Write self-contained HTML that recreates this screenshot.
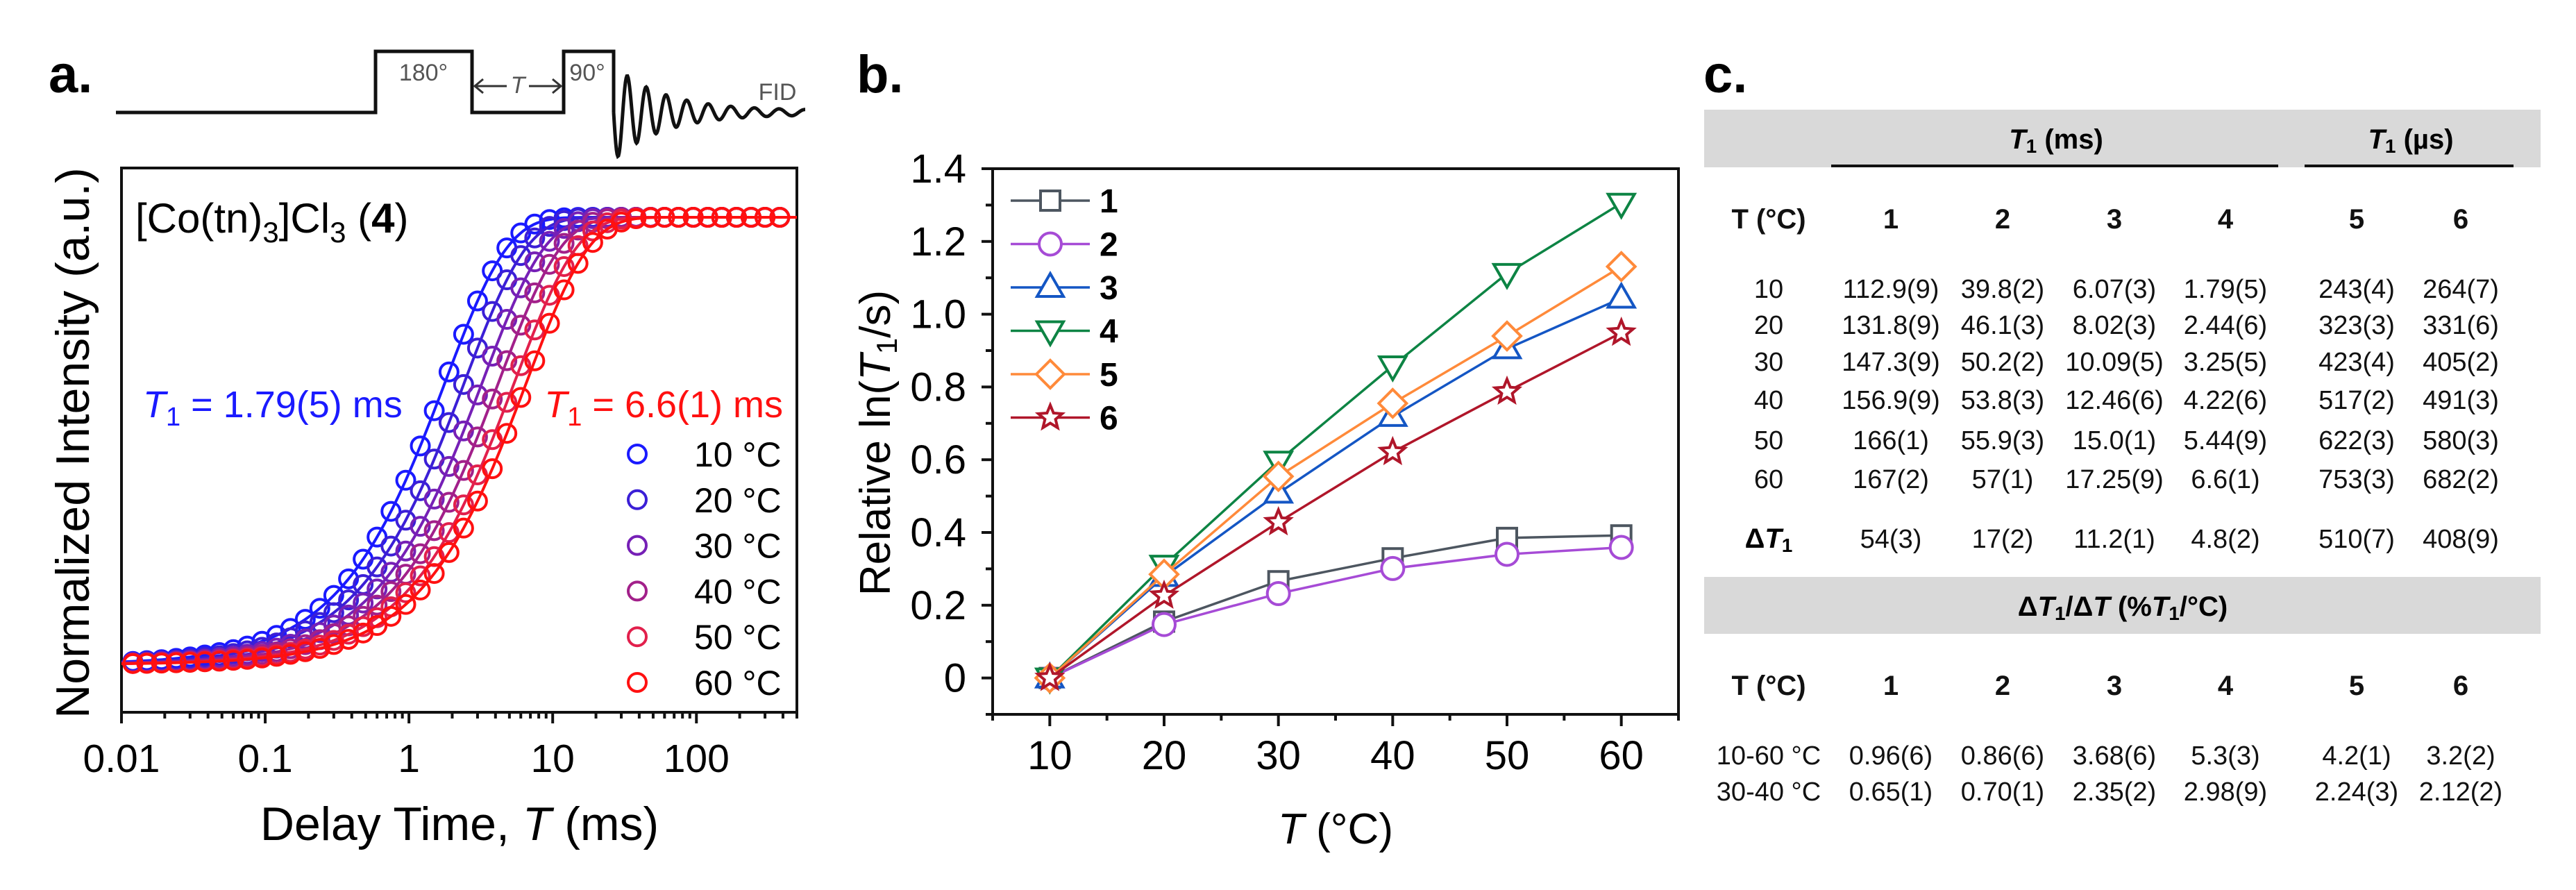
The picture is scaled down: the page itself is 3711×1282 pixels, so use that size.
<!DOCTYPE html>
<html><head><meta charset="utf-8"><style>
html,body{margin:0;padding:0;background:#fff;}
svg{display:block;font-family:"Liberation Sans",Arial,sans-serif;}
</style></head><body>
<svg id="fig" width="3711" height="1282" viewBox="0 0 3711 1282" xmlns="http://www.w3.org/2000/svg">
<g id="pa">
<text x="70" y="133" font-size="76" font-weight="bold">a.</text>
<g id="pulse" fill="none" stroke="#111" stroke-width="5">
<polyline points="167,162 541,162 541,74 680,74 680,162 812,162 812,74 884,74 884,162"/>
</g>
<text x="610" y="116" font-size="34" fill="#555" text-anchor="middle">180°</text>
<text x="846" y="116" font-size="34" fill="#555" text-anchor="middle">90°</text>
<text x="746" y="134" font-size="34" fill="#555" text-anchor="middle" font-style="italic">T</text>
<g stroke="#333" stroke-width="3" fill="none">
<line x1="684" y1="124" x2="730" y2="124"/><line x1="762" y1="124" x2="808" y2="124"/>
<polyline points="696,114 684,124 696,134"/><polyline points="796,114 808,124 796,134"/>
</g>
<text x="1120" y="144" font-size="34" fill="#555" text-anchor="middle">FID</text>
<rect x="175" y="242" width="973" height="784" fill="none" stroke="#111" stroke-width="4"/>
<g id="aTicks"></g>
<g id="aData"></g>
<text x="195" y="335" font-size="60">[Co(tn)<tspan font-size="42" dy="14">3</tspan><tspan dy="-14">]Cl</tspan><tspan font-size="42" dy="14">3</tspan><tspan dy="-14"> (</tspan><tspan font-weight="bold">4</tspan>)</text>
<text x="206" y="601" font-size="54" fill="#1a1aff"><tspan font-style="italic">T</tspan><tspan font-size="38" dy="12">1</tspan><tspan dy="-12"> = 1.79(5) ms</tspan></text>
<text x="1128" y="601" font-size="54" fill="#ff1010" text-anchor="end"><tspan font-style="italic">T</tspan><tspan font-size="38" dy="12">1</tspan><tspan dy="-12"> = 6.6(1) ms</tspan></text>
<text x="662" y="1210" font-size="68" text-anchor="middle">Delay Time, <tspan font-style="italic">T</tspan> (ms)</text>
<text transform="translate(128,638) rotate(-90)" font-size="68" text-anchor="middle">Normalized Intensity (a.u.)</text>
</g>
<g id="pb">
<text x="1234" y="133" font-size="76" font-weight="bold">b.</text>
<rect x="1430" y="243" width="988" height="786" fill="none" stroke="#111" stroke-width="4"/>
<g id="bTicks"></g>
<g id="bData"></g>
<g id="bLegend"></g>
<text x="1924" y="1215" font-size="62" text-anchor="middle"><tspan font-style="italic">T</tspan> (°C)</text>
<text transform="translate(1282,638) rotate(-90)" font-size="62" text-anchor="middle">Relative ln(<tspan font-style="italic">T</tspan><tspan font-size="42" dy="10">1</tspan><tspan dy="-10">/s)</tspan></text>
</g>
<g id="pc">
<text x="2454" y="133" font-size="76" font-weight="bold">c.</text>
<rect x="2455" y="158" width="1205" height="83" fill="#d9d9d9"/>
<rect x="2455" y="831" width="1205" height="82" fill="#d9d9d9"/>
<line x1="2638" y1="239" x2="3282" y2="239" stroke="#111" stroke-width="4"/>
<line x1="3320" y1="239" x2="3621" y2="239" stroke="#111" stroke-width="4"/>
<text x="2962" y="214" font-size="40" font-weight="bold" text-anchor="middle"><tspan font-style="italic">T</tspan><tspan font-size="28" dy="6">1</tspan><tspan dy="-6"> (ms)</tspan></text>
<text x="3473" y="214" font-size="40" font-weight="bold" text-anchor="middle"><tspan font-style="italic">T</tspan><tspan font-size="28" dy="6">1</tspan><tspan dy="-6"> (µs)</tspan></text>
<text x="3058" y="887" font-size="40" font-weight="bold" text-anchor="middle">Δ<tspan font-style="italic">T</tspan><tspan font-size="28" dy="6">1</tspan><tspan dy="-6">/Δ</tspan><tspan font-style="italic">T</tspan> (%<tspan font-style="italic">T</tspan><tspan font-size="28" dy="6">1</tspan><tspan dy="-6">/°C)</tspan></text>
<g id="tbl"></g>
</g>
</svg>
<script>
const NS="http://www.w3.org/2000/svg";
function mk(tag,attrs,parent){const e=document.createElementNS(NS,tag);for(const k in attrs)e.setAttribute(k,attrs[k]);parent.appendChild(e);return e;}

// ---------- Panel a data ----------
const aTemps=["10 °C","20 °C","30 °C","40 °C","50 °C","60 °C"];
const aT1=[1.79,2.44,3.25,4.22,5.44,6.6];
const aColors=["#1a1aff","#3b1fd6","#7620b6","#a2208a","#e2204c","#ff1010"];
const aTimes=[0.012,0.015,0.019,0.024,0.03,0.038,0.048,0.06,0.075,0.095,0.12,0.15,0.19,0.24,0.3,0.38,0.48,0.6,0.75,0.95,1.2,1.5,1.9,2.4,3.0,3.8,4.8,6.0,7.5,9.5,12,15,19,24,30,38,48,60,75,95,120,150,190,240,300,380];
const aXTicks=[0.01,0.1,1,10,100];
const aXLabels=["0.01","0.1","1","10","100"];
const AX0=175,AX1=1148,AXmin=0.01,AXmax=500,AY0=957,AY1=313;
function ax(t){return AX0+(Math.log10(t)-Math.log10(AXmin))/(Math.log10(AXmax)-Math.log10(AXmin))*(AX1-AX0);}
function ay(v){return AY0+(AY1-AY0)*v;}

const aT=document.getElementById('aTicks');
for(let d=-2;d<=2;d++){for(let m=1;m<=9;m++){const t=m*Math.pow(10,d);if(t>AXmax)continue;const x=ax(t);
 const tk=mk('line',{x1:x,y1:1026,x2:x,y2:m===1?1042:1035,stroke:'#111','stroke-width':4},aT);
 
 }}
aXTicks.forEach((t,i)=>{const tx=mk('text',{x:ax(t),y:1112,'font-size':57,'text-anchor':'middle'},aT);tx.textContent=aXLabels[i];
 
 });

(function(){let pts=[];for(let x=884;x<=1160;x+=1){const u=x-884;const a=66*Math.exp(-u/70)+3;const ph=2*Math.PI*u/(26+u*0.02);pts.push(x+','+(162+a*Math.sin(ph)).toFixed(1));}
 const p=mk('polyline',{points:pts.join(' '),fill:'none',stroke:'#111','stroke-width':5},document.getElementById('pulse'));
 
 })();

const aD=document.getElementById('aData');
aT1.forEach((T1,si)=>{const g=mk('g',{},aD);
 
 
 let pts=[];for(let k=0;k<=200;k++){const t=AXmin*Math.pow(AXmax/AXmin,k/200);pts.push(ax(t).toFixed(1)+','+ay(1-Math.exp(-t/T1)).toFixed(1));}
 const fl=mk('polyline',{points:pts.join(' '),fill:'none',stroke:aColors[si],'stroke-width':4},g);
 
 
 aTimes.forEach(t=>{if(t>AXmax)return;const c=mk('circle',{cx:ax(t),cy:ay(1-Math.exp(-t/T1)),r:13,fill:'none',stroke:aColors[si],'stroke-width':4},g);
  
  });
 const ly=654+si*65.8;
 const lc=mk('circle',{cx:918,cy:ly,r:13,fill:'none',stroke:aColors[si],'stroke-width':4},aD);
 
 
 const lt=mk('text',{x:1000,y:ly+18,'font-size':50},aD);lt.textContent=aTemps[si];
 
 
});

// ---------- Panel b data ----------
const bTemps=[10,20,30,40,50,60];
const bS1=[0,0.155,0.266,0.329,0.385,0.392];
const bS2=[0,0.147,0.232,0.301,0.340,0.359];
const bS3=[0,0.279,0.508,0.719,0.905,1.044];
const bS4=[0,0.310,0.596,0.858,1.112,1.305];
const bS5=[0,0.285,0.554,0.755,0.940,1.131];
const bS6=[0,0.226,0.428,0.621,0.787,0.949];
const bNames=["1","2","3","4","5","6"];
const bYTicks=[0,0.2,0.4,0.6,0.8,1.0,1.2,1.4];
const bYLabels=["0","0.2","0.4","0.6","0.8","1.0","1.2","1.4"];
const bXTicks=[10,20,30,40,50,60];
const bSeries=[bS1,bS2,bS3,bS4,bS5,bS6];
const bColors=["#4d5660","#a64bd6","#1456c4","#0d8444","#ff8a3a","#b0162a"];
const bShapes=["square","circle","triangle","down","diamond","star"];
const BX0=1430,BX1=2418,BY0=1029,BY1=243,BXmin=5,BXmax=65,BYmin=-0.1,BYmax=1.4;
function bx(v){return BX0+(v-BXmin)/(BXmax-BXmin)*(BX1-BX0);}
function by(v){return BY0-(v-BYmin)/(BYmax-BYmin)*(BY0-BY1);}
const bT=document.getElementById('bTicks');
for(let v=-0.1;v<=1.41;v+=0.1){const y=by(v);const maj=Math.abs(Math.round(v*10)%2)===0;
 const tk=mk('line',{x1:1430,y1:y,x2:maj?1414:1420,y2:y,stroke:'#111','stroke-width':4},bT);
 
 }
bYTicks.forEach((v,i)=>{const t=mk('text',{x:1392,y:by(v)+20,'font-size':58,'text-anchor':'end'},bT);t.textContent=bYLabels[i];
 
 });
for(let v=5;v<=65;v+=5){const x=bx(v);const maj=v%10===0;
 const tk=mk('line',{x1:x,y1:1029,x2:x,y2:maj?1046:1038,stroke:'#111','stroke-width':4},bT);
 
 }
bXTicks.forEach(v=>{const t=mk('text',{x:bx(v),y:1108,'font-size':58,'text-anchor':'middle'},bT);t.textContent=v;
 
 });

function marker(shape,x,y,col,parent){let e;const s=14;
 const st={fill:'#fff',stroke:col,'stroke-width':4};
 if(shape==='square')e=mk('rect',Object.assign({x:x-s,y:y-s,width:2*s,height:2*s},st),parent);
 else if(shape==='circle')e=mk('circle',Object.assign({cx:x,cy:y,r:16},st),parent);
 else if(shape==='triangle')e=mk('polygon',Object.assign({points:`${x},${y-20} ${x+19},${y+13} ${x-19},${y+13}`},st),parent);
 else if(shape==='down')e=mk('polygon',Object.assign({points:`${x-19},${y-13} ${x+19},${y-13} ${x},${y+20}`},st),parent);
 else if(shape==='diamond')e=mk('polygon',Object.assign({points:`${x},${y-20} ${x+20},${y} ${x},${y+20} ${x-20},${y}`},st),parent);
 else {let p=[];for(let i=0;i<10;i++){const r=i%2?8:18;const a=-Math.PI/2+i*Math.PI/5;p.push((x+r*Math.cos(a)).toFixed(1)+','+(y+r*Math.sin(a)).toFixed(1));}
  e=mk('polygon',Object.assign({points:p.join(' ')},st),parent);}
 return e;}

const bD=document.getElementById('bData');
bSeries.forEach((s,si)=>{const g=mk('g',{},bD);
 
 
 const l=mk('polyline',{points:s.map((v,i)=>bx(bTemps[i])+','+by(v)).join(' '),fill:'none',stroke:bColors[si],'stroke-width':3.5},g);
 
 
 s.forEach((v,i)=>{const m=marker(bShapes[si],bx(bTemps[i]),by(v),bColors[si],g);
  
  });
});
const bL=document.getElementById('bLegend');
bNames.forEach((n,i)=>{const y=289+i*62.5;const g=mk('g',{},bL);
 
 
 mk('line',{x1:1456,y1:y,x2:1570,y2:y,stroke:bColors[i],'stroke-width':3.5},g);
 marker(bShapes[i],1513,y,bColors[i],g);
 const t=mk('text',{x:1584,y:y+17,'font-size':48,'font-weight':'bold'},g);t.textContent=n;});

// ---------- Panel c table ----------
const colX=[2548,2724,2885,3046,3206,3395,3545];
const hdr=["T (°C)","1","2","3","4","5","6"];
const rowsT1=[
["10","112.9(9)","39.8(2)","6.07(3)","1.79(5)","243(4)","264(7)"],
["20","131.8(9)","46.1(3)","8.02(3)","2.44(6)","323(3)","331(6)"],
["30","147.3(9)","50.2(2)","10.09(5)","3.25(5)","423(4)","405(2)"],
["40","156.9(9)","53.8(3)","12.46(6)","4.22(6)","517(2)","491(3)"],
["50","166(1)","55.9(3)","15.0(1)","5.44(9)","622(3)","580(3)"],
["60","167(2)","57(1)","17.25(9)","6.6(1)","753(3)","682(2)"]];
const rowDelta=["","54(3)","17(2)","11.2(1)","4.8(2)","510(7)","408(9)"];
const rowsRate=[
["10-60 °C","0.96(6)","0.86(6)","3.68(6)","5.3(3)","4.2(1)","3.2(2)"],
["30-40 °C","0.65(1)","0.70(1)","2.35(2)","2.98(9)","2.24(3)","2.12(2)"]];
const tb=document.getElementById('tbl');
function row(cells,y,bold,name){const g=mk('g',{},tb);
 
 
 cells.forEach((c,i)=>{if(!c)return;const t=mk('text',{x:colX[i],y:y+14,'font-size':bold?40:38,'font-weight':bold?'bold':'normal','text-anchor':'middle',fill:'#111'},g);t.textContent=c;});return g;}
row(hdr,315,true,'table-header-row');
[415,467,520,575,633,689].forEach((y,i)=>row(rowsT1[i],y,false,'table-row-'+rowsT1[i][0]));
const dr=row(rowDelta,775,false,'table-delta-row');
const dl=mk('text',{x:colX[0],y:789,'font-size':40,'font-weight':'bold','text-anchor':'middle'},dr);dl.innerHTML='Δ<tspan font-style="italic">T</tspan><tspan font-size="28" dy="6">1</tspan>';
row(hdr,987,true,'rate-header-row');
[1087,1139].forEach((y,i)=>row(rowsRate[i],y,false,'rate-row-'+(i+1)));
</script>
</body></html>
